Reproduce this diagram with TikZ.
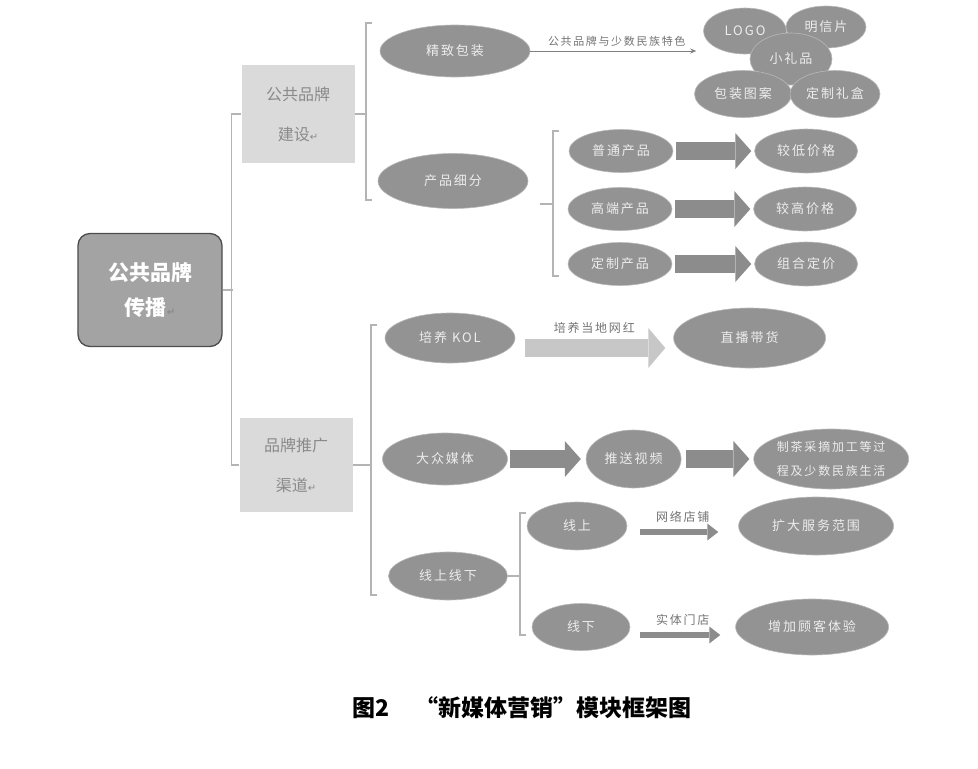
\documentclass[tikz,border=0pt]{standalone}
\usepackage{fontspec}
\setmainfont{Noto Sans CJK SC}
\newfontfamily\dejavu{DejaVu Sans}
\newfontfamily\spacedfont[LetterSpace=15]{Noto Sans CJK SC}
\usepackage{xcolor}
\usetikzlibrary{positioning, shapes.geometric, arrows.meta}

\definecolor{ovalgray}{HTML}{939393}
\definecolor{boxgray}{HTML}{DADADA}
\definecolor{linegray}{HTML}{B4B4B4}
\definecolor{textgray}{HTML}{8A8A8A}
\newcommand{\retmark}{{\dejavu\fontsize{10}{10}\selectfont\color{textgray}↵}}

\begin{document}
\begin{tikzpicture}[
    x=1pt, y=-1pt,
    root/.style={
        draw=black!70,
        fill=black!36,
        rounded corners=12pt,
        line width=1.3pt,
        minimum width=144pt,
        minimum height=113pt,
        align=center,
        text=white,
        font=\fontsize{21}{35}\selectfont\bfseries
    },
    cat/.style={fill=boxgray, minimum width=113pt, align=center, text=textgray, font=\fontsize{16}{40}\selectfont},
    oval/.style={ellipse, fill=ovalgray, draw=black!28, line width=0.6pt, inner sep=0pt, text=white!93!black, font=\spacedfont\fontsize{13}{20}\selectfont, align=center},
    bracket/.style={draw=linegray, line width=1.3pt},
    fat/.style={line width=18pt, draw=black!45, -{Triangle[length=16pt, width=36pt, line width=0pt]}},
    slim/.style={line width=6pt, draw=black!45, -{Triangle[length=11pt, width=17pt, line width=0pt]}},
    lbl/.style={text=black!55, font=\spacedfont\fontsize{12}{14}\selectfont, inner sep=1pt}
]
\useasboundingbox (0,0) rectangle (978,769);

% Root and the two branches
\node[root] (root) at (150,290) {公共品牌\\传播\retmark};
\node[cat, minimum height=98pt] (brand) at (298,114) {公共品牌\\建设\retmark};
\node[cat, minimum height=94pt] (channel) at (296,465) {品牌推广\\渠道\retmark};

% Branch 1: packaging and product segments
\node[oval, minimum width=150pt, minimum height=52pt] (pack) at (455,51) {精致包装};
\node[oval, minimum width=150pt, minimum height=55pt] (segment) at (453,181) {产品细分};

\node[oval, minimum width=83pt, minimum height=46pt] (logo) at (745,31) {LOGO};
\node[oval, minimum width=80pt, minimum height=42pt] (card) at (826,27) {明信片};
\node[oval, minimum width=82pt, minimum height=52pt] (gift) at (791,59) {小礼品};
\node[oval, minimum width=97pt, minimum height=47pt] (pattern) at (743,94) {包装图案};
\node[oval, minimum width=90pt, minimum height=47pt] (giftbox) at (835,94) {定制礼盒};

\node[oval, minimum width=104pt, minimum height=43pt] (normal) at (621,151) {普通产品};
\node[oval, minimum width=103pt, minimum height=44pt, right=81pt of normal] (low) {较低价格};
\node[oval, minimum width=104pt, minimum height=43pt] (high) at (620,209) {高端产品};
\node[oval, minimum width=103pt, minimum height=44pt, right=81pt of high] (higher) {较高价格};
\node[oval, minimum width=104pt, minimum height=43pt] (custom) at (620,264) {定制产品};
\node[oval, minimum width=103pt, minimum height=44pt, right=82pt of custom] (combo) {组合定价};

% Branch 2: channels
\node[oval, minimum width=130pt, minimum height=50pt] (kol) at (450,338) {培养 KOL};
\node[oval, minimum width=152pt, minimum height=60pt, right=158pt of kol] (live) {直播带货};

\node[oval, minimum width=125pt, minimum height=52pt] (media) at (445,459) {大众媒体};
\node[oval, minimum width=95pt, minimum height=58pt, right=78pt of media] (video) {推送视频};
\node[oval, minimum width=155pt, minimum height=60pt, right=72pt of video, font=\spacedfont\fontsize{12}{24}\selectfont] (story) {制茶采摘加工等过\\程及少数民族生活};

\node[oval, minimum width=119pt, minimum height=48pt] (o2o) at (448,576) {线上线下};
\node[oval, minimum width=100pt, minimum height=48pt] (online) at (577,526) {线上};
\node[oval, minimum width=155pt, minimum height=58pt, right=111pt of online] (scope) {扩大服务范围};
\node[oval, minimum width=98pt, minimum height=47pt] (offline) at (581,627) {线下};
\node[oval, minimum width=153pt, minimum height=56pt, right=105pt of offline] (exp) {增加顾客体验};

% Brackets
\coordinate (b1top) at (366,23);  \coordinate (b1bot) at (366,200);
\coordinate (b2top) at (371,325); \coordinate (b2bot) at (371,595);
\coordinate (b3top) at (553,131); \coordinate (b3bot) at (553,276);
\coordinate (b4top) at (520,513); \coordinate (b4bot) at (520,635);
\coordinate (b3mid) at (553,204);

\foreach \t/\b in {b1top/b1bot, b2top/b2bot, b3top/b3bot, b4top/b4bot}
    \draw[bracket] ([xshift=6pt]\t) -- (\t) -- (\b) -- ([xshift=6pt]\b);

\draw[bracket] (root.east) -- ++(10,0);
\draw[bracket] (brand.west) -- ++(-10,0) |- (channel.west);
\draw[bracket] (brand.east) -- (brand.east -| b1top);
\draw[bracket] (channel.east) -- (channel.east -| b2top);
\draw[bracket] (b3mid) -- ++(-13,0);
\draw[bracket] (o2o.east) -- (o2o.east -| b4top);

% Arrows
\draw[-{Stealth[length=6pt, width=5pt]}, line width=0.9pt, draw=black!50, shorten >=7pt] (pack.east) -- (pack.east -| logo.west)
    node[lbl, midway, above=3pt, font=\spacedfont\fontsize{11}{13}\selectfont] {公共品牌与少数民族特色};

\draw[fat, shorten <=3pt, shorten >=3pt] (normal) -- (low);
\draw[fat, shorten <=3pt, shorten >=3pt] (high) -- (higher);
\draw[fat, shorten <=3pt, shorten >=3pt] (custom) -- (combo);

\draw[fat, draw=black!22, -{Triangle[length=17pt, width=40pt, line width=0pt]}, shorten <=10pt, shorten >=8pt]
    ([yshift=-10pt]kol.east) -- ([yshift=-10pt]kol.east -| live.west)
    node[lbl, midway, above=4pt] {培养当地网红};

\draw[fat, shorten <=2pt, shorten >=5pt] (media) -- (video);
\draw[fat, shorten <=5pt, shorten >=4pt] (video) -- (story);

\draw[slim, shorten <=13pt, shorten >=20pt] ([yshift=-6pt]online.east) -- ([yshift=-6pt]online.east -| scope.west)
    node[lbl, midway, above=6pt] {网络店铺};
\draw[slim, shorten <=10pt, shorten >=15pt] ([yshift=-8pt]offline.east) -- ([yshift=-8pt]offline.east -| exp.west)
    node[lbl, midway, above=6pt] {实体门店};

% Caption
\node[font=\fontsize{23}{23}\selectfont\bfseries] (caption) at (522,708) {图2\hspace{1.1em}“新媒体营销”模块框架图};

\end{tikzpicture}
\end{document}
